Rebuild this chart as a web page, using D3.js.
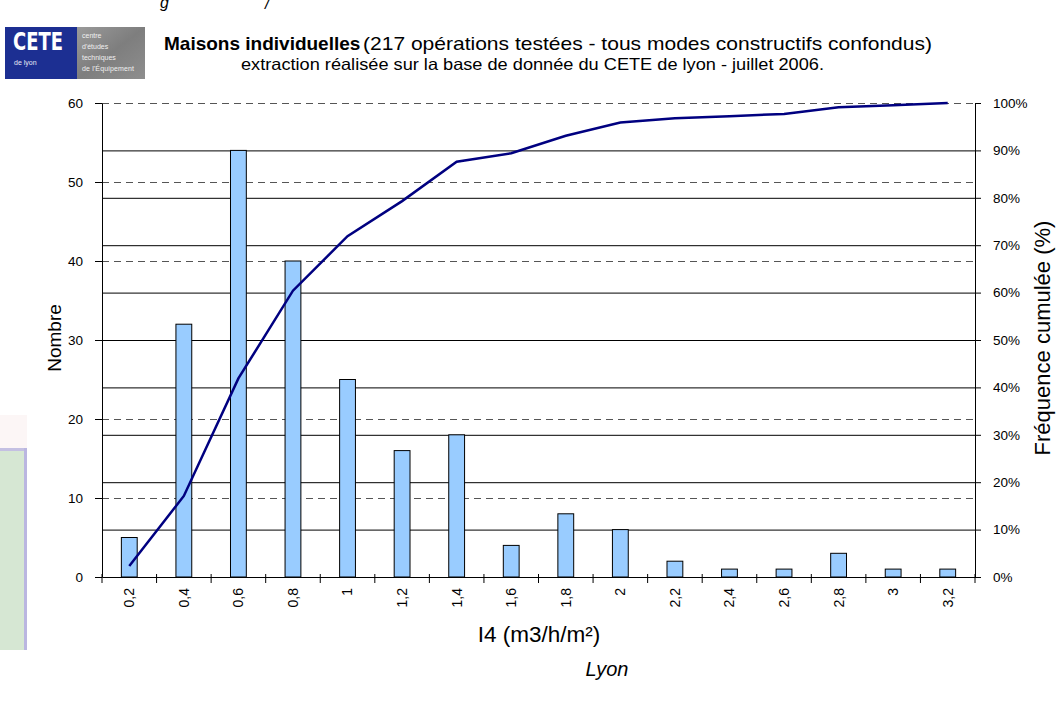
<html>
<head>
<meta charset="utf-8">
<style>
  body { margin: 0; background: #fff; }
  text { font-family: Arial, "Liberation Sans", sans-serif; }
</style>
</head>
<body>
<svg id="chart"></svg>
<script src="https://cdn.jsdelivr.net/npm/d3@7"></script>
<script>

// values
let categories = ["0,2","0,4","0,6","0,8","1","1,2","1,4","1,6","1,8","2","2,2","2,4","2,6","2,8","3","3,2"];
let counts = [5, 32, 54, 40, 25, 16, 18, 4, 8, 6, 2, 1, 1, 3, 1, 1];
let cumulPct = [2.3, 17.1, 41.9, 60.4, 71.9, 79.3, 87.6, 89.4, 93.1, 95.9, 96.8, 97.2, 97.7, 99.1, 99.5, 100];
let leftTicks = [0, 10, 20, 30, 40, 50, 60];
let rightTicks = [0, 10, 20, 30, 40, 50, 60, 70, 80, 90, 100];

let width = 1059;
let height = 709;

let svg = d3.select("#chart").attr("width", width).attr("height", height);

let plot = {left: 102, right: 975, top: 103, bottom: 577};

let x = d3.scaleBand().domain(categories).range([plot.left, plot.right]);
let yL = d3.scaleLinear().domain([0, 60]).range([plot.bottom, plot.top]);
let yR = d3.scaleLinear().domain([0, 100]).range([plot.bottom, plot.top]);

drawDecor();
drawGrid();
drawBars();
drawAxes();
drawLine();
drawTexts();

function drawDecor(){
    // left green panel
    svg.append("rect").attr("x", 0).attr("y", 415).attr("width", 27).attr("height", 33).attr("fill", "#fcf6f6");
    svg.append("rect").attr("x", 0).attr("y", 448).attr("width", 26).attr("height", 202).attr("fill", "#d6e7d3");
    svg.append("line").attr("x1", 0).attr("x2", 27).attr("y1", 449.5).attr("y2", 449.5)
        .attr("stroke", "#c4c0e2").attr("stroke-width", 3);
    svg.append("line").attr("x1", 25.5).attr("x2", 25.5).attr("y1", 448).attr("y2", 650)
        .attr("stroke", "#bab6e0").attr("stroke-width", 3);

    // logo
    let defs = svg.append("defs");
    let grad = defs.append("linearGradient").attr("id", "grey").attr("x1", 0).attr("x2", 1).attr("y1", 0).attr("y2", 1);
    grad.append("stop").attr("offset", "0%").attr("stop-color", "#9a9a9a");
    grad.append("stop").attr("offset", "50%").attr("stop-color", "#7e7e7e");
    grad.append("stop").attr("offset", "100%").attr("stop-color", "#8e8e8e");

    let logo = svg.append("g");
    logo.append("rect").attr("x", 5).attr("y", 27).attr("width", 72).attr("height", 52).attr("fill", "#1c2f92");
    logo.append("rect").attr("x", 77).attr("y", 27).attr("width", 68).attr("height", 52).attr("fill", "url(#grey)");
    logo.append("text").attr("x", 13).attr("y", 50).attr("fill", "#fff")
        .attr("font-size", 25).attr("font-weight", "bold")
        .attr("textLength", 50).attr("lengthAdjust", "spacingAndGlyphs")
        .style("font-family", "'Liberation Sans Narrow', 'DejaVu Sans Condensed', sans-serif")
        .text("CETE");
    logo.append("text").attr("x", 14).attr("y", 65).attr("fill", "#e8e8f4")
        .attr("font-size", 7).text("de lyon");
    let lines = ["centre", "d'études", "techniques", "de l'Équipement"];
    logo.selectAll(".lg").data(lines).enter().append("text")
        .attr("x", 82).attr("y", (d, i) => 38 + i * 11)
        .attr("fill", "#f0f0f0").attr("font-size", 7)
        .attr("textLength", (d, i) => i == 3 ? 52 : null)
        .text(d => d);

    // italic fragments cut at the top
    svg.append("text").attr("x", 160).attr("y", 8).attr("font-size", 16).attr("font-style", "italic").text("g");
    svg.append("text").attr("x", 265).attr("y", 9).attr("font-size", 16).attr("font-style", "italic").text("/");
}

function drawGrid(){
    let g = svg.append("g").attr("class", "grid");
    g.selectAll(".dash").data(leftTicks.filter(d => d > 0)).enter().append("line")
        .attr("x1", plot.left).attr("x2", plot.right)
        .attr("y1", d => yL(d) + 0.5).attr("y2", d => yL(d) + 0.5)
        .attr("stroke", "#555").attr("stroke-dasharray", "7,5");
    g.selectAll(".solid").data(rightTicks.filter(d => d > 0 && d < 100)).enter().append("line")
        .attr("x1", plot.left).attr("x2", plot.right)
        .attr("y1", d => yR(d) + 0.5).attr("y2", d => yR(d) + 0.5)
        .attr("stroke", "#000");
}

function drawBars(){
    let bw = x.bandwidth() * 0.29;
    svg.append("g").selectAll("rect").data(counts).enter().append("rect")
        .attr("x", (d, i) => x(categories[i]) + x.bandwidth() / 2 - bw / 2)
        .attr("y", d => yL(d))
        .attr("width", bw)
        .attr("height", d => yL(0) - yL(d))
        .attr("fill", "#99ccff")
        .attr("stroke", "#000")
        .attr("stroke-width", 1);
}

function drawAxes(){
    let left = svg.append("g").attr("transform", `translate(${plot.left},0)`)
        .call(d3.axisLeft(yL).tickValues(leftTicks).tickSize(7).tickPadding(12).tickSizeOuter(0));
    let right = svg.append("g").attr("transform", `translate(${plot.right},0)`)
        .call(d3.axisRight(yR).tickValues(rightTicks).tickFormat(d => d + "%").tickSize(6).tickPadding(12).tickSizeOuter(0));

    let bottom = svg.append("g").attr("transform", `translate(0,${plot.bottom})`)
        .call(d3.axisBottom(x).tickSize(0).tickPadding(0));
    bottom.selectAll("text")
        .attr("transform", "rotate(-90)")
        .attr("x", -11).attr("y", 0).attr("dy", "0.35em")
        .attr("text-anchor", "end")
        .attr("font-size", 14);
    // ticks between categories
    let bounds = categories.map(c => x(c)).concat([plot.right]);
    bottom.selectAll(".bt").data(bounds).enter().append("line")
        .attr("x1", d => d).attr("x2", d => d).attr("y1", -3).attr("y2", 6)
        .attr("stroke", "#000");

    [left, right, bottom].forEach(a => {
        a.selectAll("path").attr("stroke", "#000");
        a.selectAll("line").attr("stroke", "#000");
        a.selectAll("text").style("font-family", "Arial, 'Liberation Sans', sans-serif").attr("fill", "#000");
    });
    left.selectAll("text").attr("font-size", 13.5);
    right.selectAll("text").attr("font-size", 13.5);
}

function drawLine(){
    let line = d3.line()
        .x((d, i) => x(categories[i]) + x.bandwidth() / 2)
        .y(d => yR(d));
    svg.append("path").datum(cumulPct)
        .attr("d", line)
        .attr("fill", "none")
        .attr("stroke", "#000080")
        .attr("stroke-width", 2.5);
}

function drawTexts(){
    svg.append("text").attr("x", 164).attr("y", 50)
        .attr("font-weight", "bold").attr("font-size", 19).text("Maisons individuelles");
    svg.append("text").attr("x", 363).attr("y", 50).attr("font-size", 18.5)
        .attr("textLength", 569).attr("lengthAdjust", "spacingAndGlyphs")
        .text("(217 opérations testées - tous modes constructifs confondus)");

    svg.append("text").attr("x", 241).attr("y", 70).attr("font-size", 16.5)
        .attr("textLength", 583).attr("lengthAdjust", "spacingAndGlyphs")
        .text("extraction réalisée sur la base de donnée du CETE de lyon - juillet 2006.");

    svg.append("text").attr("transform", "translate(61,338) rotate(-90)")
        .attr("text-anchor", "middle").attr("font-size", 19).text("Nombre");

    svg.append("text").attr("transform", "translate(1050,338) rotate(-90)")
        .attr("text-anchor", "middle").attr("font-size", 22).text("Fréquence cumulée (%)");

    svg.append("text").attr("x", 539).attr("y", 642)
        .attr("text-anchor", "middle").attr("font-size", 22.5).text("I4 (m3/h/m²)");

    svg.append("text").attr("x", 607).attr("y", 676)
        .attr("text-anchor", "middle").attr("font-size", 20).attr("font-style", "italic").text("Lyon");
}
</script>
</body>
</html>
